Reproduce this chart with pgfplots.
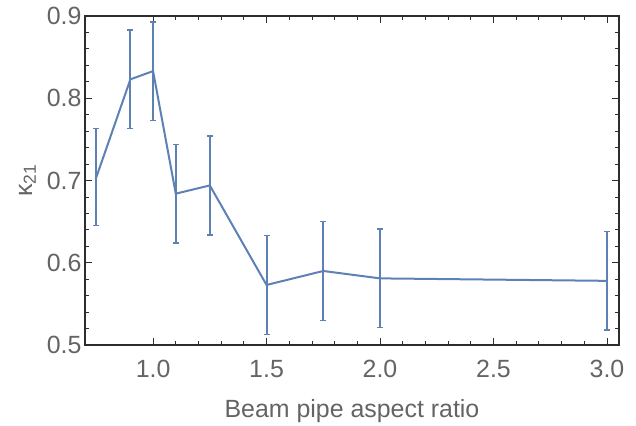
\documentclass[border=0pt]{standalone}
\usepackage{fontspec}
\setmainfont{Liberation Sans}
\usepackage{pgfplots}
\pgfplotsset{compat=1.18}
\definecolor{mmablue}{RGB}{94,129,181}
\definecolor{framegray}{RGB}{45,45,45}
\definecolor{labelgray}{RGB}{100,100,100}

\begin{document}
\begin{tikzpicture}
\begin{axis}[
    scale only axis,
    width=534bp, height=329bp,
    xmin=0.7, xmax=3.053,
    ymin=0.5, ymax=0.9,
    xtick={1.0,1.5,2.0,2.5,3.0},
    ytick={0.5,0.6,0.7,0.8,0.9},
    minor x tick num=4, minor y tick num=4,
    tick align=inside,
    xtick pos=both, ytick pos=both,
    major tick length=7bp, minor tick length=4bp,
    every tick/.style={framegray, line width=0.8bp},
    axis line style={framegray, line width=1.1bp},
    /pgf/number format/assume math mode=true,
    /pgf/number format/.cd, fixed, fixed zerofill, precision=1, /pgfplots/.cd,
    tick label style={font=\fontsize{25}{29}\selectfont, text=labelgray},
    xticklabel style={anchor=base, yshift=-32bp},
    label style={font=\fontsize{25}{29}\selectfont, text=labelgray},
    xlabel={Beam pipe aspect ratio},
    xlabel style={at={(axis description cs:0.5,0)}, anchor=base, yshift=-72bp},
    ylabel={κ\textsubscript{21}},
    ylabel style={at={(axis description cs:-0.099,0.5)}, anchor=base},
]
\addplot[color=mmablue, line width=2bp,
    error bars/.cd, y dir=both, y explicit,
    error bar style={mmablue, line width=2bp},
    error mark options={rotate=90, mark size=3bp, mmablue, line width=1.5bp}]
  coordinates {
    (0.75,0.704) +- (0,0.059)
    (0.90,0.823) +- (0,0.060)
    (1.00,0.833) +- (0,0.060)
    (1.10,0.684) +- (0,0.060)
    (1.25,0.694) +- (0,0.060)
    (1.50,0.573) +- (0,0.060)
    (1.75,0.590) +- (0,0.060)
    (2.00,0.581) +- (0,0.060)
    (3.00,0.578) +- (0,0.060)
  };
\end{axis}
\path ([shift={(-85bp,-81bp)}]current axis.south west) rectangle ([shift={(17bp,16bp)}]current axis.north east);
\end{tikzpicture}
\end{document}
